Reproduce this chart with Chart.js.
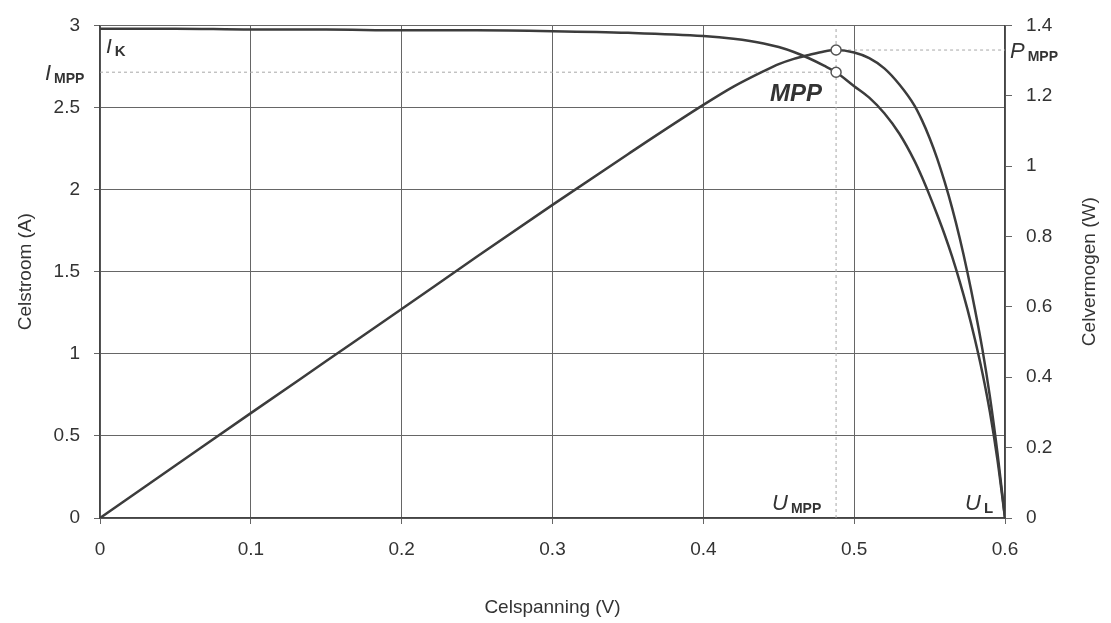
<!DOCTYPE html>
<html>
<head>
<meta charset="utf-8">
<script src="https://cdn.jsdelivr.net/npm/chart.js@4.4.0/dist/chart.umd.min.js"></script>
<style>
  body { margin: 0; background: #fff; }
  canvas { display: block; }
</style>
</head>
<body>
<canvas id="chart" width="1111" height="623"></canvas>
<script>
// cell voltage (V)
var voltage = [0, 0.05, 0.1, 0.15, 0.2, 0.25, 0.3, 0.35, 0.4, 0.42, 0.44, 0.45, 0.46, 0.47, 0.48, 0.488,
  0.5, 0.51, 0.52, 0.53, 0.54, 0.545, 0.55, 0.555, 0.56, 0.565, 0.57, 0.575, 0.58, 0.585, 0.59, 0.595, 0.6];
// cell current (A)
var current = [2.98, 2.98, 2.975, 2.975, 2.97, 2.97, 2.965, 2.955, 2.935, 2.918, 2.89, 2.868, 2.838, 2.8, 2.755, 2.715,
  2.63, 2.56, 2.465, 2.34, 2.175, 2.075, 1.965, 1.848, 1.725, 1.59, 1.44, 1.275, 1.09, 0.885, 0.645, 0.355, 0];
// cell power (W)
var power = [0, 0.149, 0.298, 0.446, 0.594, 0.743, 0.89, 1.034, 1.174, 1.226, 1.27, 1.29, 1.305, 1.316, 1.326, 1.33,
  1.323, 1.307, 1.278, 1.232, 1.172, 1.13, 1.08, 1.022, 0.955, 0.88, 0.795, 0.7, 0.595, 0.48, 0.345, 0.185, 0];

// maximum power point
var mppVoltage = 0.488;
var mppCurrent = 2.715;
var mppPower = 1.33;

// tick labels
var voltTicks = [0, 0.1, 0.2, 0.3, 0.4, 0.5, 0.6];
var currentTicks = [0, 0.5, 1, 1.5, 2, 2.5, 3];
var powerTicks = [0, 0.2, 0.4, 0.6, 0.8, 1, 1.2, 1.4];

var textColor = "#333";
var lineColor = "#3c3c3c";
var font = "'Liberation Sans', Arial, sans-serif";

function points(xs, ys) {
  return xs.map(function (x, i) { return { x: x, y: ys[i] }; });
}

// common axis settings
function axis(opts) {
  var base = {
    type: "linear",
    ticks: {
      color: textColor,
      font: { family: font, size: 19 },
      padding: 14,
      autoSkip: false,
      callback: function (v) { return String(Math.round(v * 10) / 10); },
    },
    grid: { color: "#666", lineWidth: 1, tickLength: 6, tickColor: "#666" },
    border: { color: "#444", width: 1.5 },
    title: { display: true, color: textColor, font: { family: font, size: 19 } },
  };
  return Object.assign(base, opts);
}

function setTicks(values) {
  return function (scale) {
    scale.ticks = values.map(function (v) { return { value: v }; });
  };
}

// labels drawn on top of the plot
var labelPlugin = {
  id: "labels",
  afterDraw: function (chart) {
    var ctx = chart.ctx;
    var area = chart.chartArea;
    var x = chart.scales.x, yI = chart.scales.yI, yP = chart.scales.yP;
    ctx.save();
    ctx.fillStyle = textColor;
    ctx.textBaseline = "alphabetic";

    function sym(main, sub, px, py, size, subSize) {
      ctx.font = "italic " + size + "px " + font;
      ctx.textAlign = "left";
      ctx.fillText(main, px, py);
      var w = ctx.measureText(main).width;
      ctx.font = "bold " + subSize + "px " + font;
      ctx.fillText(sub, px + w + 3, py + 3);
    }

    sym("I", "K", x.getPixelForValue(0) + 6, area.top + 28, 21, 15);
    sym("I", "MPP", 45, yI.getPixelForValue(mppCurrent) + 8, 22, 14);
    sym("P", "MPP", area.right + 5, yP.getPixelForValue(mppPower) + 8, 22, 14);
    sym("U", "MPP", x.getPixelForValue(mppVoltage) - 64, area.bottom - 8, 22, 14);
    sym("U", "L", x.getPixelForValue(0.6) - 40, area.bottom - 8, 22, 15);

    ctx.font = "italic bold 24px " + font;
    ctx.fillText("MPP", x.getPixelForValue(mppVoltage) - 66, yI.getPixelForValue(mppCurrent) + 29);

    // right axis title, reading upwards like the left one
    ctx.translate(1090, (area.top + area.bottom) / 2);
    ctx.rotate(-Math.PI / 2);
    ctx.textAlign = "center";
    ctx.textBaseline = "middle";
    ctx.font = "19px " + font;
    ctx.fillText("Celvermogen (W)", 0, 0);
    ctx.restore();
  },
};

var refLine = { borderColor: "#a8a8a8", borderWidth: 1, borderDash: [3, 3], pointRadius: 0, fill: false, order: 5 };

new Chart(document.getElementById("chart"), {
  type: "line",
  data: {
    datasets: [
      Object.assign({ label: "Umpp", yAxisID: "yI", data: points([mppVoltage, mppVoltage], [0, 3]) }, refLine),
      Object.assign({ label: "Impp", yAxisID: "yI", data: points([0, mppVoltage], [mppCurrent, mppCurrent]) }, refLine),
      Object.assign({ label: "Pmpp", yAxisID: "yP", data: points([mppVoltage, 0.6], [mppPower, mppPower]) }, refLine),
      {
        label: "Celstroom",
        yAxisID: "yI",
        data: points(voltage, current),
        borderColor: lineColor,
        borderWidth: 2.5,
        pointRadius: 0,
        cubicInterpolationMode: "monotone",
        order: 2,
      },
      {
        label: "Celvermogen",
        yAxisID: "yP",
        data: points(voltage, power),
        borderColor: lineColor,
        borderWidth: 2.5,
        pointRadius: 0,
        cubicInterpolationMode: "monotone",
        order: 2,
      },
      {
        label: "MPP I",
        yAxisID: "yI",
        data: points([mppVoltage], [mppCurrent]),
        showLine: false,
        pointRadius: 5,
        borderWidth: 1.5,
        pointBackgroundColor: "#fff",
        pointBorderColor: "#555",
        order: 1,
      },
      {
        label: "MPP P",
        yAxisID: "yP",
        data: points([mppVoltage], [mppPower]),
        showLine: false,
        pointRadius: 5,
        borderWidth: 1.5,
        pointBackgroundColor: "#fff",
        pointBorderColor: "#555",
        order: 1,
      },
    ],
  },
  options: {
    responsive: false,
    animation: false,
    layout: { padding: { top: 20, left: 0, right: 0, bottom: 0 } },
    plugins: { legend: { display: false }, tooltip: { enabled: false } },
    scales: {
      x: axis({
        position: "bottom",
        min: 0,
        max: 0.6,
        afterBuildTicks: setTicks(voltTicks),
        afterFit: function (scale) { scale.height = 105; },
        title: { display: true, text: "Celspanning (V)", color: textColor, font: { family: font, size: 19 }, padding: { top: 4, bottom: 4 } },
      }),
      yI: axis({
        position: "left",
        min: 0,
        max: 3,
        afterBuildTicks: setTicks(currentTicks),
        afterFit: function (scale) { scale.width = 100; },
        title: { display: true, text: "Celstroom (A)", color: textColor, font: { family: font, size: 19 }, padding: { top: 14, bottom: 4 } },
      }),
      yP: axis({
        position: "right",
        min: 0,
        max: 1.4,
        afterBuildTicks: setTicks(powerTicks),
        afterFit: function (scale) { scale.width = 106; },
        grid: { drawOnChartArea: false, tickLength: 7, tickColor: "#666" },
        title: { display: false },
      }),
    },
  },
  plugins: [labelPlugin],
});
</script>
</body>
</html>
